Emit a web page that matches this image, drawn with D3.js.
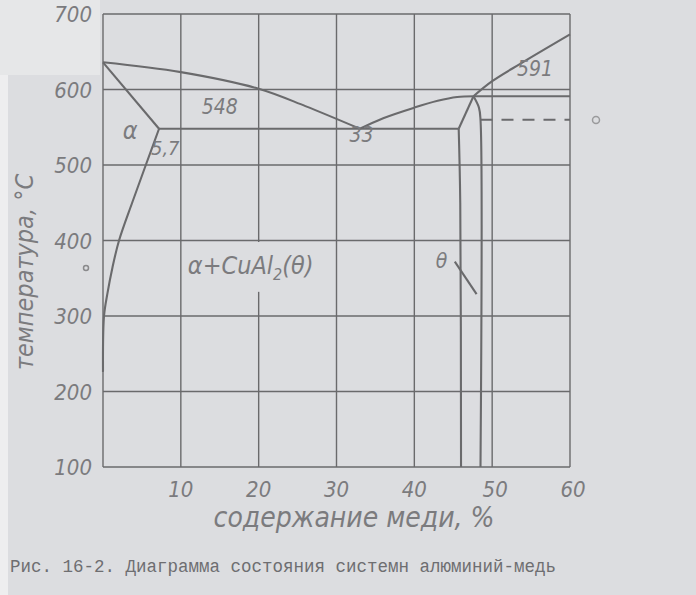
<!DOCTYPE html>
<html><head><meta charset="utf-8">
<script src="https://cdn.jsdelivr.net/npm/d3@7"></script>
<style>html,body{margin:0;padding:0;background:#dcdde0;}svg{display:block;}</style>
</head><body>
<svg id="chart" width="696" height="595"></svg>
<script>
// ---- data (Cu %, temperature °C) ----
const xTicks = [10, 20, 30, 40, 50, 60];
const yTicks = [100, 200, 300, 400, 500, 600, 700];
const xGrid = [0, 10, 20, 30, 40, 50, 60];
const liquidusLeft = [[0, 636], [10, 623], [20, 601], [26, 578], [33, 548]];
const liquidusMid = [[33, 548], [36, 562], [40, 576], [43, 585], [45.5, 590], [47.6, 591]];
const liquidusRight = [[47.6, 591], [50, 611], [53.6, 634], [60, 673]];
const alphaSolidus = [[0, 636], [7.2, 548]];
const alphaSolvus = [[0, 226], [0.13, 300], [0.57, 330], [1.21, 364], [2.06, 400], [3.78, 451], [5.5, 500], [7.2, 548]];
const eutecticLine = [[7.2, 548], [45.7, 548]];
const thetaLeftTop = [[45.7, 548], [47.6, 591]];
const thetaLeft = [[45.7, 548], [45.9, 450], [46.0, 100]];
const thetaRight = [[47.6, 591], [48.3, 576], [48.5, 560], [48.5, 100]];
const peritecticLine = [[47.6, 591], [60, 591]];
const dashedLine = [[48.5, 560], [60, 560]];
const labels = [
  {t: "α", x: 3.5, y: 535, size: 25},
  {t: "5,7", x: 8.0, y: 513, size: 20},
  {t: "548", x: 15, y: 568, size: 21},
  {t: "33", x: 33.2, y: 530, size: 21},
  {t: "591", x: 55.5, y: 618, size: 21},
  {t: "θ", x: 43.5, y: 363, size: 21}
];
const thetaLeader = [[45.2, 372], [48.0, 329]];
const phaseLabel = {x: 10.9, y: 355};

const svg = d3.select("#chart");
const x = d3.scaleLinear().domain([0, 60]).range([103, 570]);
const y = d3.scaleLinear().domain([100, 700]).range([467, 14]);

const ink = "#6a6a6c", txt = "#7b7b7e", paper = "#dcdde0";
const fontH = "'DejaVu Sans Condensed','DejaVu Sans',sans-serif";

// paper tone
svg.append("rect").attr("width", 696).attr("height", 595).attr("fill", paper);
svg.append("rect").attr("x", 0).attr("y", 0).attr("width", 100).attr("height", 75).attr("fill", "#e6e7e8");
svg.append("rect").attr("x", 0).attr("y", 75).attr("width", 8).attr("height", 520).attr("fill", "#eeeeef");

// grid
const g = svg.append("g");
g.selectAll(".vg").data(xGrid).join("line")
  .attr("x1", d => x(d)).attr("x2", d => x(d)).attr("y1", y(700)).attr("y2", y(100))
  .attr("stroke", ink).attr("stroke-width", 1.4);
g.selectAll(".hg").data(yTicks).join("line")
  .attr("x1", x(0)).attr("x2", x(60)).attr("y1", d => y(d)).attr("y2", d => y(d))
  .attr("stroke", ink).attr("stroke-width", 1.4);

// gap behind phase label
svg.append("rect").attr("x", x(phaseLabel.x)).attr("y", y(398)).attr("width", x(29.5) - x(phaseLabel.x))
  .attr("height", y(332) - y(398)).attr("fill", paper);

// axes tick labels
svg.selectAll(".yt").data(yTicks).join("text")
  .attr("x", x(0) - 11).attr("y", d => y(d) + 8).attr("text-anchor", "end")
  .attr("font-family", fontH).attr("font-style", "italic").attr("font-size", 22)
  .attr("fill", txt).text(d => d);
svg.selectAll(".xt").data(xTicks).join("text")
  .attr("x", d => x(d) + (d >= 50 ? 3 : 0)).attr("y", y(100) + 30).attr("text-anchor", "middle")
  .attr("font-family", fontH).attr("font-style", "italic").attr("font-size", 22)
  .attr("fill", txt).text(d => d);

// curves
const lin = d3.line().x(d => x(d[0])).y(d => y(d[1]));
const smooth = d3.line().x(d => x(d[0])).y(d => y(d[1])).curve(d3.curveCatmullRom.alpha(0.5));
const draw = (data, gen, dash) => svg.append("path").datum(data).attr("d", gen)
  .attr("fill", "none").attr("stroke", ink).attr("stroke-width", 2.1)
  .attr("stroke-linejoin", "round").attr("stroke-dasharray", dash || null);
draw(liquidusLeft, smooth);
draw(liquidusMid, smooth);
draw(liquidusRight, smooth);
draw(alphaSolidus, lin);
draw(alphaSolvus, smooth);
draw(eutecticLine, lin);
draw(thetaLeftTop, lin);
draw(thetaLeft, smooth);
draw(thetaRight, smooth);
draw(peritecticLine, lin);
draw(dashedLine, lin, "12,9");
draw(thetaLeader, lin);

// annotation labels
svg.selectAll(".lab").data(labels).join("text")
  .attr("x", d => x(d.x)).attr("y", d => y(d.y)).attr("text-anchor", "middle")
  .attr("font-family", fontH).attr("font-style", "italic").attr("font-size", d => d.size)
  .attr("fill", txt).text(d => d.t);

const pl = svg.append("text").attr("x", x(phaseLabel.x)).attr("y", y(phaseLabel.y))
  .attr("font-family", fontH).attr("font-style", "italic").attr("font-size", 25).attr("fill", txt);
pl.append("tspan").text("α+CuAl");
pl.append("tspan").attr("dy", 6).attr("font-size", 16).text("2");
pl.append("tspan").attr("dy", -6).text("(θ)");

// axis titles
svg.append("text").attr("x", 354).attr("y", 527).attr("text-anchor", "middle")
  .attr("font-family", fontH).attr("font-style", "italic").attr("font-size", 28)
  .attr("fill", txt).text("содержание меди, %");
svg.append("text").attr("transform", "translate(33,272) rotate(-90)").attr("text-anchor", "middle")
  .attr("font-family", fontH).attr("font-style", "italic").attr("font-size", 25)
  .attr("fill", txt).text("температура, °С");

// caption
svg.append("text").attr("x", 10).attr("y", 572)
  .attr("font-family", "'Liberation Mono','DejaVu Sans Mono',monospace").attr("font-size", 17.5)
  .attr("fill", "#6e6e71").text("Рис. 16-2. Диаграмма состояния системн алюминий-медь");

// scan marks
svg.append("circle").attr("cx", 596).attr("cy", 120).attr("r", 3.5).attr("fill", "none").attr("stroke", "#9a9a9c").attr("stroke-width", 1.5);
svg.append("circle").attr("cx", 86).attr("cy", 268).attr("r", 2.5).attr("fill", "none").attr("stroke", "#8a8a8c").attr("stroke-width", 1.5);
</script>
</body></html>
